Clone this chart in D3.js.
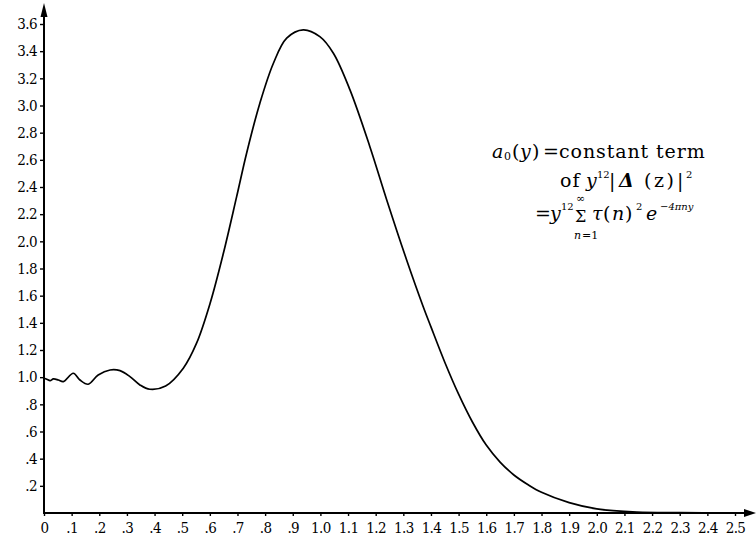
<!DOCTYPE html>
<html>
<head>
<meta charset="utf-8">
<script src="https://cdnjs.cloudflare.com/ajax/libs/d3/7.8.5/d3.min.js"></script>
<style>
  html, body { margin: 0; padding: 0; background: #fff; }
  svg { display: block; }
</style>
</head>
<body>
<div id="chart"></div>
<script>
// y (horizontal variable) and a0(y)
var yPts = [0.000, 0.010, 0.022, 0.034, 0.052, 0.070, 0.106, 0.130, 0.160, 0.196,
    0.239, 0.275, 0.311, 0.347, 0.383, 0.440, 0.504, 0.552, 0.601,
    0.649, 0.697, 0.733, 0.781, 0.830, 0.878, 0.938, 0.998, 1.047, 1.107,
    1.179, 1.240, 1.312, 1.372, 1.400, 1.450, 1.500, 1.550, 1.600, 1.650, 1.700,
    1.750, 1.800, 1.900, 2.000, 2.145, 2.300, 2.500];
var a0Pts = [0.992, 0.985, 0.974, 0.987, 0.979, 0.967, 1.029, 0.979, 0.948, 1.016,
    1.053, 1.048, 1.004, 0.943, 0.911, 0.935, 1.066, 1.250, 1.544,
    1.912, 2.329, 2.649, 3.017, 3.311, 3.496, 3.557, 3.507, 3.385, 3.115,
    2.697, 2.305, 1.863, 1.519, 1.370, 1.110, 0.875, 0.670, 0.500, 0.375, 0.280,
    0.210, 0.152, 0.076, 0.030, 0.007, 0.003, 0.001];

var xTickLabels = ['0', '.1', '.2', '.3', '.4', '.5', '.6', '.7', '.8', '.9',
    '1.0', '1.1', '1.2', '1.3', '1.4', '1.5', '1.6', '1.7', '1.8', '1.9',
    '2.0', '2.1', '2.2', '2.3', '2.4', '2.5'];
var yTickLabels = ['.2', '.4', '.6', '.8', '1.0', '1.2', '1.4', '1.6', '1.8',
    '2.0', '2.2', '2.4', '2.6', '2.8', '3.0', '3.2', '3.4', '3.6'];

var svg, x, y;
var W = 756, H = 542;
var tickFont = '"DejaVu Serif Condensed", "Liberation Serif", serif';

function setupSVG (id) {
    svg = d3.select('#' + id).append('svg')
        .attr('width', W)
        .attr('height', H);
    x = d3.scaleLinear().domain([0, 2.5]).range([44, 735]);
    y = d3.scaleLinear().domain([0, 3.6]).range([513, 24]);
}

function drawAxes () {
    var xAxis = d3.axisBottom(x)
        .tickValues(xTickLabels.map(function (s) { return +s; }))
        .tickFormat(function (d, i) { return xTickLabels[i]; })
        .tickSize(3).tickPadding(4);
    var yAxis = d3.axisLeft(y)
        .tickValues(yTickLabels.map(function (s) { return +s; }))
        .tickFormat(function (d, i) { return yTickLabels[i]; })
        .tickSize(4).tickPadding(3);

    var gx = svg.append('g')
        .attr('transform', 'translate(0,' + y(0) + ')')
        .call(xAxis);
    var gy = svg.append('g')
        .attr('transform', 'translate(' + x(0) + ',0)')
        .call(yAxis);

    [gx, gy].forEach(function (g) {
        g.attr('font-family', tickFont);
        g.select('.domain').remove();
        g.selectAll('.tick line').attr('stroke', '#000').attr('stroke-width', 1.4);
        g.selectAll('.tick text')
            .attr('font-family', tickFont)
            .attr('fill', '#000')
            .attr('font-size', 15)
            .attr('letter-spacing', -0.6);
    });
    gx.selectAll('.tick text').attr('dy', '0.85em');

    // axis lines with arrows
    svg.append('line')
        .attr('x1', x(0)).attr('y1', y(0))
        .attr('x2', 750).attr('y2', y(0))
        .attr('stroke', '#000').attr('stroke-width', 2);
    svg.append('line')
        .attr('x1', x(0)).attr('y1', y(0) + 1)
        .attr('x2', x(0)).attr('y2', 10)
        .attr('stroke', '#000').attr('stroke-width', 2);
    svg.append('path')
        .attr('d', 'M' + 756 + ',' + y(0) + 'L744,' + (y(0) - 4) + 'L744,' + (y(0) + 4) + 'Z')
        .attr('fill', '#000');
    svg.append('path')
        .attr('d', 'M' + x(0) + ',3L' + (x(0) - 3.5) + ',17L' + (x(0) + 3.5) + ',17Z')
        .attr('fill', '#000');
}

function drawCurve () {
    var pts = yPts.map(function (v, i) { return [v, a0Pts[i]]; });
    var line = d3.line()
        .x(function (d) { return x(d[0]); })
        .y(function (d) { return y(d[1]); })
        .curve(d3.curveCatmullRom.alpha(0.5));
    svg.append('path')
        .datum(pts)
        .attr('d', line)
        .attr('fill', 'none')
        .attr('stroke', '#000')
        .attr('stroke-width', 1.7);
}

function txt (xp, yp, size, s, italic) {
    return svg.append('text')
        .attr('x', xp).attr('y', yp)
        .attr('font-family', '"DejaVu Serif", serif')
        .attr('font-size', size)
        .attr('font-style', italic ? 'italic' : 'normal')
        .attr('fill', '#000')
        .text(s);
}

function drawLabel () {
    // line 1: a0(y)=constant term
    txt(492, 158, 19, 'a', true);
    txt(504, 160, 11, '0');
    txt(512, 158, 19, '(');
    txt(520, 158, 19, 'y', true);
    txt(532, 158, 19, ')');
    txt(543, 158, 19, '=');
    txt(559, 158, 19, 'constant term').attr('letter-spacing', 0.9);

    // line 2: of y^12 |Δ(z)|^2
    txt(560, 187, 19, 'of').attr('letter-spacing', 1);
    txt(586, 187, 19, 'y', true);
    txt(597, 178, 10, '12');
    txt(609, 187, 19, '|');
    txt(619, 187, 19, 'Δ', true).attr('font-weight', 'bold');
    txt(644, 187, 19, '(z)').attr('letter-spacing', 2.5);
    txt(677, 187, 19, '|');
    txt(686, 178, 10, '2');

    // line 3: = y^12 Σ τ(n)^2 e^{-4πny}
    txt(535, 220, 19, '=');
    txt(550, 220, 19, 'y', true);
    txt(561, 210, 10, '12');
    txt(575, 222, 16, 'Σ');
    txt(576, 202, 11, '∞');
    txt(574, 239, 11, 'n', true);
    txt(582, 239, 11, '=1');
    txt(592, 220, 19, 'τ', true);
    txt(603, 220, 19, '(');
    txt(612, 220, 19, 'n', true);
    txt(625, 220, 19, ')');
    txt(636, 210, 10, '2');
    txt(646, 220, 19, 'e', true);
    txt(660, 210, 10, '−4πny', true);
}

setupSVG('chart');
drawAxes();
drawCurve();
drawLabel();
</script>
</body>
</html>
